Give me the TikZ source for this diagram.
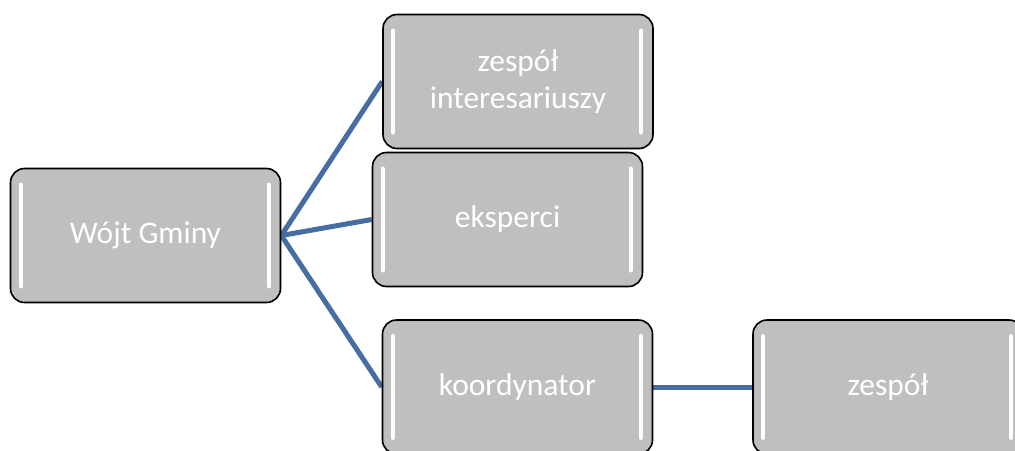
\documentclass[tikz,border=0pt]{standalone}
\usepackage{fontspec}
\setmainfont{Carlito}
\usetikzlibrary{backgrounds}
\definecolor{boxfill}{RGB}{191,191,191}
\definecolor{conn}{RGB}{70,110,162}
\tikzset{
  orgbox/.style={draw=black, line width=1.6pt, fill=boxfill, rounded corners=14pt,
    minimum width=270pt, minimum height=134pt, inner sep=0pt, align=center,
    text=white, font=\fontsize{31.5}{37}\selectfont,
    path picture={
      \draw[black!30, line width=4pt, opacity=0.35, rounded corners=12pt]
        (path picture bounding box.south west) rectangle (path picture bounding box.north east);
      \draw[white, line width=4pt, line cap=round]
        ([xshift=10pt,yshift=-16pt]path picture bounding box.north west) --
        ([xshift=10pt,yshift=16pt]path picture bounding box.south west);
      \draw[white, line width=4pt, line cap=round]
        ([xshift=-12pt,yshift=-16pt]path picture bounding box.north east) --
        ([xshift=-12pt,yshift=16pt]path picture bounding box.south east);
    }},
  connector/.style={draw=conn, line width=5pt}
}
\begin{document}
\begin{tikzpicture}[x=1pt,y=-1pt]
\clip (0,0) rectangle (1015,450);
\node[orgbox] (wojt) at (145.5,235.5) {Wójt Gminy};
\node[orgbox] (inter) at (518,81.5) {zespół\\interesariuszy};
\node[orgbox] (eksp) at (507.5,219.5) {eksperci};
\node[orgbox] (koord) at (517.5,387) {koordynator};
\node[orgbox] (zesp) at (888,387) {zespół};
\begin{scope}[on background layer]
\draw[connector] (wojt.east) -- (inter.west);
\draw[connector] (wojt.east) -- (eksp.west);
\draw[connector] (wojt.east) -- (koord.west);
\draw[connector] (koord.east) -- (zesp.west);
\end{scope}
\end{tikzpicture}
\end{document}
